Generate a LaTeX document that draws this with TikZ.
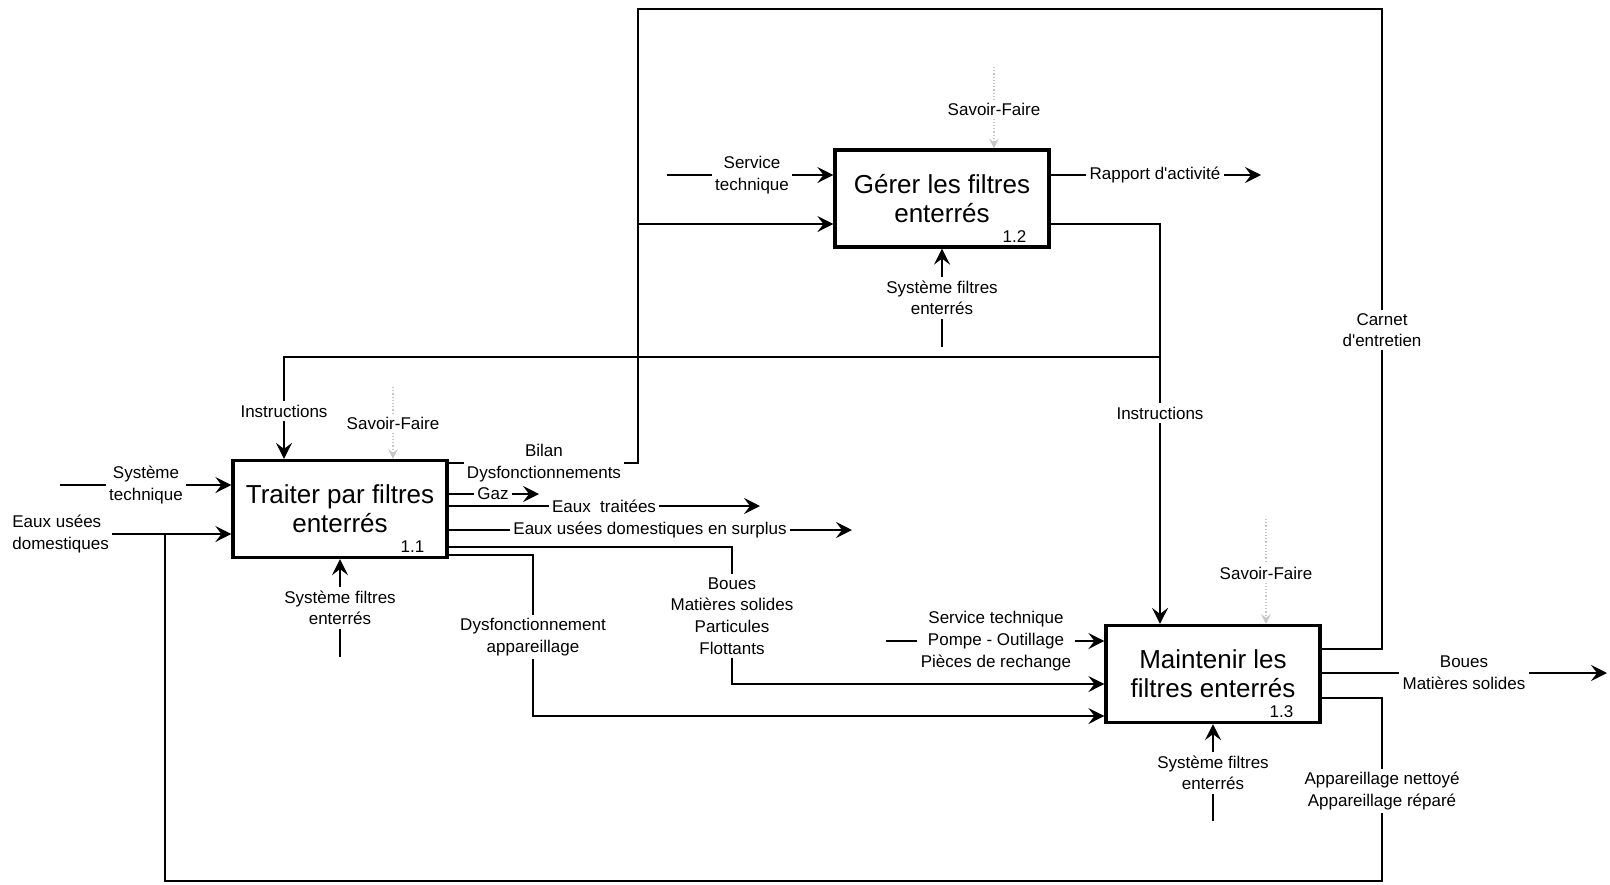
\documentclass[tikz,border=0pt]{standalone}
\usepackage{fontspec}
\setmainfont{Liberation Sans}
\usetikzlibrary{arrows.meta,calc}

\begin{document}
\begin{tikzpicture}[
  x=0.5pt, y=-0.5pt,
  act/.style={draw, line width=1.6pt, minimum width=107pt, minimum height=48.5pt,
    inner sep=0pt, align=center, font=\fontsize{13}{14.5}\selectfont},
  num/.style={anchor=south east, inner sep=0pt, font=\fontsize{8.5}{10}\selectfont},
  lbl/.style={align=center, inner sep=1.5pt, font=\fontsize{8.5}{10.8}\selectfont},
  flow/.style={line width=1.1pt},
  arr/.style={flow, -{Stealth[length=8pt,width=8pt,inset=3pt]}},
  knowline/.style={gray!45, densely dotted, line width=0.6pt},
  know/.style={knowline, -{Stealth[length=5pt,width=5pt,inset=2pt]}}
]
\useasboundingbox (0,0) rectangle (1610,884);

% the three activities
\node[act] (t11) at (340,509)   {Traiter par filtres\\enterrés};
\node[act] (t12) at (942,198.5) {Gérer les filtres\\enterrés};
\node[act] (t13) at (1213,674)  {Maintenir les\\filtres enterrés};
\node[num] (n11) at ([xshift=-12pt,yshift=3pt]t11.south east) {1.1};
\node[num] (n12) at ([xshift=-12pt,yshift=3pt]t12.south east) {1.2};
\node[num] (n13) at ([xshift=-14pt,yshift=3pt]t13.south east) {1.3};

% controls: savoir-faire (faint)
\node[lbl] (sf11) at (393,423)  {Savoir-Faire};
\node[lbl] (sf12) at (994,109)  {Savoir-Faire};
\node[lbl] (sf13) at (1266,573) {Savoir-Faire};
\coordinate (sf11in) at (393,387);
\coordinate (sf12in) at (994,67);
\coordinate (sf13in) at (1266,519);
\draw[knowline] (sf11in) -- (sf11.north);
\draw[know] (sf11.south) -- (sf11.south |- t11.north);
\draw[knowline] (sf12in) -- (sf12.north);
\draw[know] (sf12.south) -- (sf12.south |- t12.north);
\draw[knowline] (sf13in) -- (sf13.north);
\draw[know] (sf13.south) -- (sf13.south |- t13.north);

% mechanisms
\node[lbl] (me11) at (340,608)  {Système filtres\\enterrés};
\node[lbl] (me12) at (942,298)  {Système filtres\\enterrés};
\node[lbl] (me13) at (1213,773) {Système filtres\\enterrés};
\coordinate (me11in) at (340,657);
\coordinate (me12in) at (942,347);
\coordinate (me13in) at (1213,821);
\draw[flow] (me11in) -- (me11.south);
\draw[arr] (me11.north) -- (t11.south);
\draw[flow] (me12in) -- (me12.south);
\draw[arr] (me12.north) -- (t12.south);
\draw[flow] (me13in) -- (me13.south);
\draw[arr] (me13.north) -- (t13.south);

% inputs of 1.1
\node[lbl] (st) at (146,485) {Système\\technique};
\coordinate (stin) at (60,485);
\draw[flow] (stin) -- (st.west);
\draw[arr] (st.east) -- (st.east -| t11.west);
\node[lbl, anchor=west, align=left] (eu) at (9,534) {Eaux usées\\domestiques};
\draw[arr] (eu.east) -- (eu.east -| t11.west);

% outputs of 1.1
\node[lbl] (bd) at (544,463) {Bilan\\Dysfonctionnements};
\coordinate (bil) at (638,463);
\coordinate (gin) at (638,224);
\draw[flow] (bd.west -| t11.east) -- (bd.west);
\draw[arr] (bd.east) -- (bil) -- (gin) -- (gin -| t12.west);

\node[lbl] (gaz) at (493,494) {Gaz};
\coordinate (gazout) at (539,494);
\draw[flow] (gaz.west -| t11.east) -- (gaz.west);
\draw[arr] (gaz.east) -- (gazout);

\node[lbl] (et) at (604,506) {Eaux\ \ traitées};
\coordinate (etout) at (760,506);
\draw[flow] (et.west -| t11.east) -- (et.west);
\draw[arr] (et.east) -- (etout);

\node[lbl] (es) at (650,530) {Eaux usées domestiques en surplus};
\coordinate (esout) at (852,530);
\draw[flow] (es.west -| t11.east) -- (es.west);
\draw[arr] (es.east) -- (esout);

\node[lbl] (bo) at (732,616) {Boues\\Matières solides\\Particules\\Flottants};
\coordinate (boR) at (732,547);
\coordinate (boB) at (732,684);
\draw[flow] (boR -| t11.east) -- (boR) -- (bo.north);
\draw[arr] (bo.south) -- (boB) -- (boB -| t13.west);

\node[lbl] (da) at (533,637) {Dysfonctionnement\\appareillage};
\coordinate (daR) at (533,555);
\coordinate (daB) at (533,716);
\draw[flow] (daR -| t11.east) -- (daR) -- (da.north);
\draw[arr] (da.south) -- (daB) -- (daB -| t13.west);

% 1.2: inputs and outputs
\node[lbl] (sv12) at (752,175) {Service\\technique};
\coordinate (sv12in) at (667,175);
\draw[flow] (sv12in) -- (sv12.west);
\draw[arr] (sv12.east) -- (sv12.east -| t12.west);

\node[lbl] (rp) at (1155,175) {Rapport d\textquotesingle activité};
\coordinate (rpout) at (1261,175);
\draw[flow] (rp.west -| t12.east) -- (rp.west);
\draw[arr] (rp.east) -- (rpout);

% instructions to 1.1 and 1.3
\node[lbl] (ins11) at (284,411)  {Instructions};
\node[lbl] (ins13) at (1160,413) {Instructions};
\coordinate (gout) at (1160,224);
\coordinate (insJ) at (1160,357);
\coordinate (insL) at (284,357);
\draw[flow] (gout -| t12.east) -- (gout) -- (ins13.north);
\draw[arr] (ins13.south) -- (ins13.south |- t13.north);
\draw[flow] (insJ) -- (insL) -- (ins11.north);
\draw[arr] (ins11.south) -- (ins11.south |- t11.north);

% 1.3: inputs and outputs
\node[lbl] (sv13) at (996,641) {Service technique\\Pompe - Outillage\\Pièces de rechange};
\coordinate (sv13in) at (886,641);
\draw[flow] (sv13in) -- (sv13.west);
\draw[arr] (sv13.east) -- (sv13.east -| t13.west);

\node[lbl] (bo13) at (1464,673) {Boues\\Matières solides};
\coordinate (bo13out) at (1607,673);
\draw[flow] (bo13.west -| t13.east) -- (bo13.west);
\draw[arr] (bo13.east) -- (bo13out);

% carnet d'entretien back to 1.2 (round the top)
\node[lbl] (ce) at (1382,330) {Carnet\\d\textquotesingle entretien};
\coordinate (ceR) at (1382,649);
\coordinate (topR) at (1382,9);
\coordinate (topL) at (638,9);
\draw[flow] (ceR -| t13.east) -- (ceR) -- (ce.south);
\draw[flow] (ce.north) -- (topR) -- (topL) -- (gin);

% appareillage back to 1.1 (round the bottom)
\node[lbl] (ap) at (1382,791) {Appareillage nettoyé\\Appareillage réparé};
\coordinate (apR) at (1382,698);
\coordinate (botR) at (1382,881);
\coordinate (botL) at (165,881);
\draw[flow] (apR -| t13.east) -- (apR) -- (ap.north);
\draw[flow] (ap.south) -- (botR) -- (botL) -- (botL |- eu.east);

\end{tikzpicture}
\end{document}
